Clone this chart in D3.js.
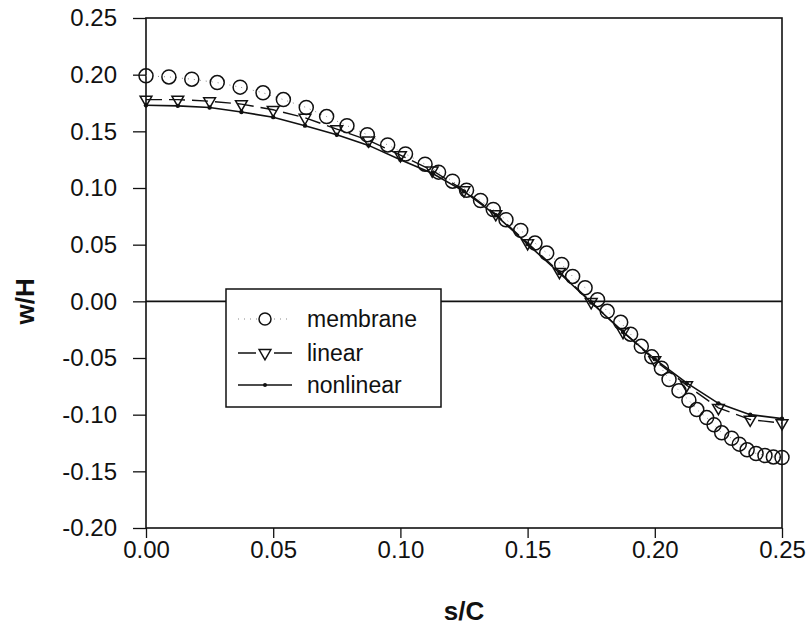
<!DOCTYPE html>
<html lang="en">
<head>
  <meta charset="UTF-8" />
  <title>w/H vs s/C</title>
  <style>
    body { margin: 0; background: #fff; }
    svg text { font-family: "Liberation Sans", Arial, sans-serif; fill: #111; }
  </style>
</head>
<body>
  <div id="chart"></div>

  <script src="https://d3js.org/d3.v7.min.js"></script>
  <script>
    // values
    const membraneS = [0, 0.009, 0.018, 0.028, 0.037, 0.046, 0.054, 0.063, 0.071, 0.079, 0.087, 0.095,
      0.102, 0.1097, 0.115, 0.1205, 0.126, 0.1315, 0.1365, 0.1415, 0.1473, 0.1529, 0.1575, 0.1634,
      0.1677, 0.1726, 0.1775, 0.1813, 0.1866, 0.1905, 0.1947, 0.1988, 0.2026, 0.2056, 0.2095, 0.2134,
      0.2165, 0.2204, 0.2233, 0.2263, 0.2302, 0.2332, 0.2363, 0.2398, 0.2433, 0.2466, 0.25];
    const membraneW = [0.199, 0.198, 0.196, 0.193, 0.189, 0.184, 0.178, 0.171, 0.163, 0.155, 0.147, 0.138,
      0.130, 0.121, 0.114, 0.106, 0.098, 0.089, 0.081, 0.072, 0.0626, 0.0514, 0.0426, 0.0326,
      0.022, 0.012, 0.0015, -0.0088, -0.0185, -0.029, -0.0397, -0.049, -0.059, -0.069, -0.0788, -0.0873,
      -0.0955, -0.1026, -0.109, -0.116, -0.1208, -0.126, -0.131, -0.1343, -0.136, -0.1373, -0.1378];

    const beamS = [0, 0.0125, 0.025, 0.0375, 0.05, 0.0625, 0.075, 0.0875, 0.1, 0.1125, 0.125, 0.1375,
      0.15, 0.1625, 0.175, 0.1875, 0.2, 0.2125, 0.225, 0.2375, 0.25];
    const linearW = [0.178, 0.178, 0.1766, 0.174, 0.169, 0.162, 0.152, 0.142, 0.129, 0.1155, 0.098, 0.077,
      0.0514, 0.026, -0.0006, -0.027, -0.052, -0.074, -0.094, -0.1043, -0.1075];
    const nonlinearW = [0.173, 0.1725, 0.171, 0.167, 0.1625, 0.155, 0.147, 0.1376, 0.125, 0.113, 0.097, 0.076,
      0.0505, 0.025, -0.001, -0.027, -0.051, -0.072, -0.090, -0.100, -0.1035];

    const xTicks = [0, 0.05, 0.10, 0.15, 0.20, 0.25];
    const yTicks = [-0.20, -0.15, -0.10, -0.05, 0, 0.05, 0.10, 0.15, 0.20, 0.25];
    const legendNames = ["membrane", "linear", "nonlinear"];

    const W = 809, H = 634;
    const margin = {top: 18, right: 27, bottom: 106, left: 146};
    const width = W - margin.left - margin.right,
          height = H - margin.top - margin.bottom;

    const svg = d3.select("#chart").append("svg")
        .attr("width", W).attr("height", H)
      .append("g")
        .attr("transform", `translate(${margin.left},${margin.top})`);

    const x = d3.scaleLinear().domain([0, 0.25]).range([0, width]);
    const y = d3.scaleLinear().domain([-0.20, 0.25]).range([height, 0]);

    // plain hyphen for negatives, as in the original
    const fmt = d => d3.format(".2f")(d).replace("\u2212", "-");

    const membrane = membraneS.map((s, i) => ({s, w: membraneW[i]}));
    const linear = beamS.map((s, i) => ({s, w: linearW[i]}));
    const nonlinear = beamS.map((s, i) => ({s, w: nonlinearW[i]}));

    // axes
    const xAxis = svg.append("g")
      .attr("transform", `translate(0,${height})`)
      .call(d3.axisBottom(x).tickValues(xTicks).tickFormat(fmt).tickSize(10).tickSizeOuter(0).tickPadding(3));
    const yAxis = svg.append("g")
      .call(d3.axisLeft(y).tickValues(yTicks).tickFormat(fmt).tickSize(13).tickSizeOuter(0).tickPadding(16));

    [xAxis, yAxis].forEach(a => {
      a.select(".domain").remove();
      a.selectAll("line").attr("stroke", "#111").attr("stroke-width", 1.3);
      a.selectAll("text").style("font-size", "24px").attr("fill", "#111");
    });

    // frame
    svg.append("rect")
      .attr("width", width).attr("height", height)
      .attr("fill", "none").attr("stroke", "#111").attr("stroke-width", 1.6);

    // zero line
    svg.append("line")
      .attr("x1", 0).attr("x2", width)
      .attr("y1", y(0)).attr("y2", y(0))
      .attr("stroke", "#111").attr("stroke-width", 1.6);

    const line = d3.line().x(d => x(d.s)).y(d => y(d.w));

    // nonlinear: solid with small dots
    svg.append("path").datum(nonlinear)
      .attr("d", line).attr("fill", "none")
      .attr("stroke", "#111").attr("stroke-width", 1.6);
    svg.selectAll(".nl").data(nonlinear).enter().append("circle")
      .attr("class", "nl")
      .attr("cx", d => x(d.s)).attr("cy", d => y(d.w))
      .attr("r", 2.2).attr("fill", "#111");

    // linear: dashed with down triangles
    svg.append("path").datum(linear)
      .attr("d", line).attr("fill", "none")
      .attr("stroke", "#111").attr("stroke-width", 1.4)
      .attr("stroke-dasharray", "16,7");

    const tri = d3.symbol().type(d3.symbolTriangle).size(60);
    svg.selectAll(".lin").data(linear).enter().append("path")
      .attr("class", "lin")
      .attr("d", tri)
      .attr("transform", d => `translate(${x(d.s)},${y(d.w)}) rotate(180)`)
      .attr("fill", "none").attr("stroke", "#111").attr("stroke-width", 1.5);

    // membrane: dotted with open circles
    svg.append("path").datum(membrane)
      .attr("d", line).attr("fill", "none")
      .attr("stroke", "#888").attr("stroke-width", 1)
      .attr("stroke-dasharray", "1,5");
    svg.selectAll(".mem").data(membrane).enter().append("circle")
      .attr("class", "mem")
      .attr("cx", d => x(d.s)).attr("cy", d => y(d.w))
      .attr("r", 7).attr("fill", "none")
      .attr("stroke", "#111").attr("stroke-width", 1.5);

    // axis titles
    svg.append("text")
      .attr("x", width / 2).attr("y", height + 92)
      .attr("text-anchor", "middle")
      .style("font-size", "26px").style("font-weight", "bold")
      .text("s/C");
    svg.append("text")
      .attr("transform", `translate(${-112},${y(0)}) rotate(-90)`)
      .attr("text-anchor", "middle")
      .style("font-size", "26px").style("font-weight", "bold")
      .text("w/H");

    // legend
    const lg = svg.append("g").attr("transform", `translate(${226 - margin.left},${289 - margin.top})`);
    lg.append("rect")
      .attr("width", 215).attr("height", 118)
      .attr("fill", "#fff").attr("stroke", "#111").attr("stroke-width", 1.5);

    const rows = lg.selectAll(".row").data(legendNames).enter().append("g")
      .attr("transform", (d, i) => `translate(0,${[30, 64, 96][i]})`);

    rows.append("line")
      .attr("x1", 12).attr("x2", 66)
      .attr("stroke", (d, i) => i === 0 ? "#888" : "#111")
      .attr("stroke-width", (d, i) => i === 0 ? 1 : 1.4)
      .attr("stroke-dasharray", (d, i) => ["1,5", "18,8,4,6,10,0", null][i]);

    rows.filter((d, i) => i === 0).append("circle")
      .attr("cx", 39).attr("r", 6).attr("fill", "#fff")
      .attr("stroke", "#111").attr("stroke-width", 1.5);
    rows.filter((d, i) => i === 1).append("path")
      .attr("d", tri).attr("transform", "translate(39,0) rotate(180)")
      .attr("fill", "#fff").attr("stroke", "#111").attr("stroke-width", 1.5);
    rows.filter((d, i) => i === 2).append("circle")
      .attr("cx", 39).attr("r", 2).attr("fill", "#111");

    rows.append("text")
      .attr("x", 81).attr("dy", "0.35em")
      .style("font-size", "23px")
      .text(d => d);
  </script>
</body>
</html>
